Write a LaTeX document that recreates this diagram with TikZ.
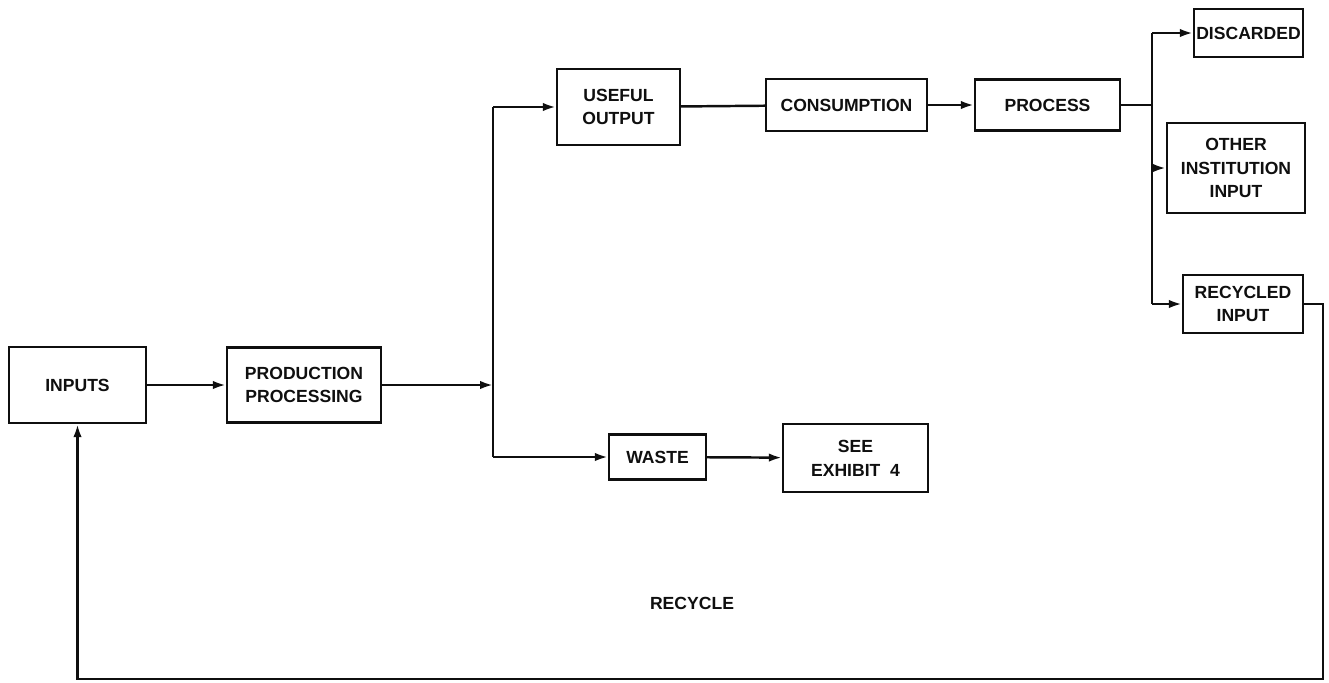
\documentclass[tikz,border=0pt]{standalone}
\usepackage{fontspec}
\setmainfont{Liberation Sans}
\usepackage{tikz}
\usetikzlibrary{arrows.meta,positioning,calc}
\definecolor{flowInk}{RGB}{15,15,15}
\tikzset{
    flowBox/.style={
        rectangle,
        draw=flowInk,
        line width=1.4pt,
        inner sep=1pt,
        align=center,
        font=\fontsize{10}{13.5}\selectfont\bfseries,
        text=flowInk
    },
    flowLabel/.style={
        font=\fontsize{10}{13.5}\selectfont\bfseries,
        text=flowInk,
        inner sep=0pt
    },
    % Connectors
    flowLine/.style={line width=1.4pt, draw=flowInk},
    flowArrow/.style={flowLine, -{Latex[length=2.6mm, width=1.7mm]}}
}
\begin{document}
\begin{tikzpicture}[x=0.02cm, y=-0.02cm]
\useasboundingbox (0,0) rectangle (1329,683);

% Production chain
\node[flowBox, minimum width=2.74cm, minimum height=1.52cm] (inputs) at (77.5, 385) {INPUTS};
\node[flowBox, minimum width=3.08cm, minimum height=1.50cm] (prod) at (304, 385) {PRODUCTION\\PROCESSING};

% Useful branch
\node[flowBox, minimum width=2.46cm, minimum height=1.52cm] (useful) at (618.5, 107) {USEFUL\\OUTPUT};
\node[flowBox, minimum width=3.22cm, minimum height=1.04cm] (consum) at (846.5, 105) {CONSUMPTION};
\node[flowBox, minimum width=2.90cm, minimum height=1.02cm] (process) at (1047.5, 105) {PROCESS};

% Outlets
\node[flowBox, minimum width=2.18cm, minimum height=0.96cm] (discard) at (1248.5, 33) {DISCARDED};
\node[flowBox, minimum width=2.76cm, minimum height=1.80cm] (other) at (1236, 168) {OTHER\\INSTITUTION\\INPUT};
\node[flowBox, minimum width=2.40cm, minimum height=1.16cm] (recycled) at (1243, 304) {RECYCLED\\INPUT};

% Waste branch
\node[flowBox, minimum width=1.94cm, minimum height=0.90cm] (waste) at (657.5, 457) {WASTE};
\node[flowBox, minimum width=2.90cm, minimum height=1.36cm] (exhibit) at (855.5, 458) {SEE\\EXHIBIT~~4};

\node[flowLabel] (recycleLbl) at (692, 603) {RECYCLE};

% Split points
\coordinate (splitTop) at (493, 107);
\coordinate (splitBot) at (493, 457);
\coordinate (fanTop) at (1152, 33);
\coordinate (fanBot) at (1152, 304);
\coordinate (loopRight) at (1323, 679);
\coordinate (loopLeft) at (77.5, 679);

\draw[flowArrow] (inputs) -- (prod);
\draw[flowLine] (splitTop) -- (splitBot);
\draw[flowArrow] (prod.east) -- (prod.east -| splitTop);
\draw[flowArrow] (splitTop) -- (useful.west);
\draw[flowArrow] (splitBot) -- (waste.west);
\draw[flowArrow] (waste) -- (exhibit);
\draw[flowLine] (useful) -- (consum);
\draw[flowArrow] (consum) -- (process);

\draw[flowLine] (process.east) -- (process.east -| fanTop);
\draw[flowLine] (fanTop) -- (fanBot);
\draw[flowArrow] (fanTop) -- (discard.west);
\draw[flowArrow] (other.west -| fanTop) -- (other.west);
\draw[flowArrow] (fanBot) -- (recycled.west);

% Recycle loop
\draw[flowArrow] (recycled.east) -| (loopRight) -- (loopLeft) -- (inputs.south);
\end{tikzpicture}
\end{document}
